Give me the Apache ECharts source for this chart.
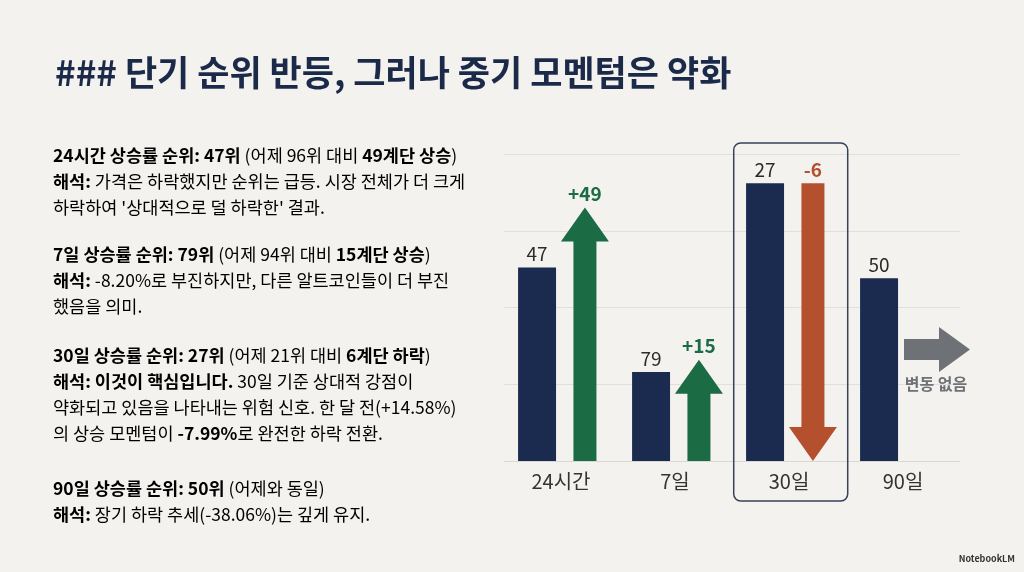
<!DOCTYPE html>
<html><head><meta charset="utf-8">
<script src="https://cdn.jsdelivr.net/npm/echarts@6/dist/echarts.min.js"></script>
<style>html,body{margin:0;padding:0;background:#f3f2ee;} #c{width:1024px;height:572px;}</style>
</head><body><div id="c"></div>
<script>
// ---- data ----
const categories = ['24시간', '7일', '30일', '90일'];
const ranks = [47, 79, 27, 50];
const barHeights = [63, 29, 90.5, 59.5];
const changeLabels = ['+49', '+15', '-6', '변동 없음'];
const arrowKinds = ['up', 'up', 'down', 'flat'];
const arrowStart = [0, 0, 90.5, 36.3];
const arrowEnd = [82.6, 33, 0, 36.3];
const highlightIndex = 2;
const yMax = 100;
const yInterval = 25;

const FONT = '"Noto Sans CJK KR", "Noto Sans", sans-serif';
const NAVY = '#1b2b50';
const GREEN = '#1b6b45';
const RED = '#b5502e';
const GRAY = '#6e7175';

const chart = echarts.init(document.getElementById('c'));

const rich = {
  b: { fontFamily: FONT, fontSize: 17.5, fontWeight: 'bold', color: '#1e1e1e', lineHeight: 26 },
  n: { fontFamily: FONT, fontSize: 17.5, color: '#2e2e2e', lineHeight: 26 }
};
function para(top, text) {
  return { type: 'text', left: 53, top: top, style: { text: text, rich: rich, fontFamily: FONT } };
}

const option = {
  backgroundColor: '#f3f2ee',
  animation: false,
  grid: { left: 504, right: 64, top: 154, bottom: 111 },
  xAxis: {
    type: 'category', data: categories,
    axisTick: { show: false },
    axisLine: { lineStyle: { color: '#d9d7d1' } },
    axisLabel: { fontFamily: FONT, fontSize: 20, color: '#333', margin: 10 }
  },
  yAxis: {
    type: 'value', min: 0, max: yMax, interval: yInterval,
    axisLabel: { show: false }, axisLine: { show: false }, axisTick: { show: false },
    splitLine: { lineStyle: { color: '#e1dfd9' } }
  },
  graphic: [
    { type: 'text', left: 55, top: 55, style: { text: '### 단기 순위 반등, 그러나 중기 모멘텀은 약화', fontFamily: FONT, fontSize: 35, fontWeight: 'bold', fill: '#1c2a4a' } },
    para(147, '{b|24시간 상승률 순위: 47위}{n| (어제 96위 대비 }{b|49계단 상승}{n|)}\n{b|해석:}{n| 가격은 하락했지만 순위는 급등. 시장 전체가 더 크게}\n{n|하락하여 \'상대적으로 덜 하락한\' 결과.}'),
    para(246, '{b|7일 상승률 순위: 79위}{n| (어제 94위 대비 }{b|15계단 상승}{n|)}\n{b|해석:}{n| -8.20%로 부진하지만, 다른 알트코인들이 더 부진}\n{n|했음을 의미.}'),
    para(347, '{b|30일 상승률 순위: 27위}{n| (어제 21위 대비 }{b|6계단 하락}{n|)}\n{b|해석: 이것이 핵심입니다.}{n| 30일 기준 상대적 강점이}\n{n|약화되고 있음을 나타내는 위험 신호. 한 달 전(+14.58%)}\n{n|의 상승 모멘텀이 }{b|-7.99%}{n|로 완전한 하락 전환.}'),
    para(480, '{b|90일 상승률 순위: 50위}{n| (어제와 동일)}\n{b|해석:}{n| 장기 하락 추세(-38.06%)는 깊게 유지.}'),
    { type: 'text', right: 9, top: 554, style: { text: 'NotebookLM', fontFamily: FONT, fontSize: 9, fontWeight: 'bold', fill: '#333' } }
  ],
  series: [
    {
      type: 'custom', name: 'highlight', silent: true,
      data: [[highlightIndex]],
      renderItem: function (params, api) {
        const i = api.value(0);
        const t = api.coord([i, yMax]);
        const b = api.coord([i, 0]);
        const band = api.size([1, 0])[0];
        return { type: 'rect', shape: { x: t[0] - band * 0.485, y: t[1] - 11, width: band, height: b[1] - t[1] + 51, r: 7 },
          style: { fill: 'none', stroke: '#38415a', lineWidth: 1.5 } };
      }
    },
    {
      type: 'custom', name: '순위',
      data: categories.map((c, i) => [i, barHeights[i], ranks[i]]),
      renderItem: function (params, api) {
        const i = api.value(0), v = api.value(1);
        const base = api.coord([i, 0]), top = api.coord([i, v]);
        const band = api.size([1, 0])[0];
        const cx = base[0] - band * 0.21;
        const w = band * 0.333;
        return { type: 'group', children: [
          { type: 'rect', shape: { x: cx - w / 2, y: top[1], width: w, height: base[1] - top[1] }, style: { fill: NAVY } },
          { type: 'text', style: { text: String(api.value(2)), x: cx, y: top[1] - 4, align: 'center', verticalAlign: 'bottom', font: '19px ' + FONT, fill: '#2b2b2b' } }
        ] };
      }
    },
    {
      type: 'custom', name: '변동',
      data: categories.map((c, i) => [i, arrowStart[i], arrowEnd[i]]),
      renderItem: function (params, api) {
        const idx = params.dataIndex;
        const i = api.value(0), a = api.value(1), b = api.value(2);
        const pa = api.coord([i, a]), pb = api.coord([i, b]);
        const band = api.size([1, 0])[0];
        const kind = arrowKinds[idx];
        const label = changeLabels[idx];
        if (kind === 'flat') {
          const x0 = pa[0] + 1, x1 = pa[0] + 67, y = pa[1];
          const sh = 21, hh = 45, hl = 31;
          return { type: 'group', children: [
            { type: 'polygon', shape: { points: [[x0, y - sh / 2], [x1 - hl, y - sh / 2], [x1 - hl, y - hh / 2], [x1, y], [x1 - hl, y + hh / 2], [x1 - hl, y + sh / 2], [x0, y + sh / 2]] }, style: { fill: GRAY } },
            { type: 'text', style: { text: label, x: pa[0] + 33, y: y + 34, align: 'center', verticalAlign: 'middle', font: 'bold 16px ' + FONT, fill: GRAY } }
          ] };
        }
        const cx = pa[0] + band * 0.21;
        const sw = 23, hw = 48, hl = 34;
        let pts, ly, color;
        if (kind === 'up') {
          const hb = pb[1] + hl;
          pts = [[cx - sw / 2, pa[1]], [cx - sw / 2, hb], [cx - hw / 2, hb], [cx, pb[1]], [cx + hw / 2, hb], [cx + sw / 2, hb], [cx + sw / 2, pa[1]]];
          ly = pb[1] - 4; color = GREEN;
        } else {
          const hb = pb[1] - hl;
          pts = [[cx - sw / 2, pa[1]], [cx - sw / 2, hb], [cx - hw / 2, hb], [cx, pb[1]], [cx + hw / 2, hb], [cx + sw / 2, hb], [cx + sw / 2, pa[1]]];
          ly = pa[1] - 4; color = RED;
        }
        return { type: 'group', children: [
          { type: 'polygon', shape: { points: pts }, style: { fill: color } },
          { type: 'text', style: { text: label, x: cx, y: ly, align: 'center', verticalAlign: 'bottom', font: 'bold 19px ' + FONT, fill: color } }
        ] };
      }
    }
  ]
};
chart.setOption(option);
</script>
</body></html>
